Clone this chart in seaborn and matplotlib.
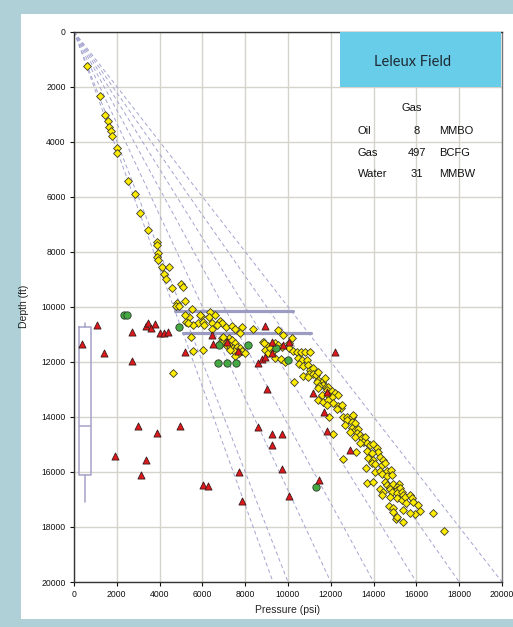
import matplotlib
matplotlib.use("Agg")
import matplotlib.pyplot as plt
import seaborn as sns
import pandas as pd
from matplotlib.patches import Rectangle

# ---------------- data (pressure psi, depth ft) ----------------
gas_points = [
    (620, 1250), (1220, 2340), (1440, 3020), (1580, 3240), (1620, 3460), (1730, 3600),
    (1780, 3790), (2000, 4240), (2020, 4400), (2520, 5440), (2850, 5920), (3080, 6600),
    (3460, 7210), (3870, 7640), (3890, 7760), (3910, 8040), (3870, 8180), (3940, 8300),
    (4100, 8550), (4440, 8550), (4220, 8810), (4290, 9000), (4570, 9310), (5000, 9170),
    (5090, 9290), (5190, 9780), (4830, 9880), (4770, 9970), (4920, 9970), (5500, 10090),
    (5390, 10380), (5940, 10340), (6360, 10180), (6320, 10380), (6590, 10300), (5220, 10540),
    (5810, 10600), (6010, 10540), (6090, 10660), (5580, 10660), (6440, 10600), (6820, 10510),
    (6900, 10600), (6670, 10660), (7100, 10730), (7370, 10690), (7520, 10820), (7840, 10730),
    (8380, 10820), (6440, 10820), (5450, 11110), (5580, 11600), (6040, 11570), (4640, 12400),
    (6900, 11150), (7060, 11180), (7260, 11120), (6820, 11330), (6980, 11270), (7160, 11270),
    (7370, 11210), (7520, 11310), (7100, 11390), (7290, 11430), (7420, 11510), (7600, 11450),
    (7490, 11600), (7760, 11510), (7840, 11600), (7730, 11670), (7520, 11790), (7990, 11670),
    (6950, 11090), (8850, 11270), (9050, 11430), (8930, 11570), (9050, 11690), (5340, 10580),
    (7760, 10960), (7290, 11570), (5190, 10300), (5890, 10300),
    (9550, 10850), (9750, 11030), (10170, 11150), (8880, 11310), (9390, 11330), (9550, 11390),
    (9160, 11510), (9350, 11570), (9710, 11450), (10060, 11310), (10060, 11510), (10220, 11600),
    (10410, 11630), (10590, 11660), (10800, 11660), (11030, 11630), (9390, 11850), (9660, 11900),
    (9860, 12000), (10480, 11870), (10640, 11940), (10870, 11940), (10530, 12090), (10720, 12140),
    (10950, 12120), (11030, 12300), (11180, 12240), (11000, 12440), (11150, 12440), (11310, 12480),
    (10720, 12520), (10950, 12540), (11420, 12360), (11420, 12660), (11580, 12720), (11340, 12740),
    (11730, 12600), (11620, 12840), (11780, 12900), (11460, 12870), (10300, 12730), (11420, 12960),
    (11880, 12930), (11810, 13020), (12040, 13060), (12200, 13120), (12350, 13210), (11580, 13210),
    (11880, 13210), (12040, 13270), (11420, 13390), (11650, 13450), (11880, 13390), (12090, 13490),
    (11810, 13570), (12350, 13610), (12460, 13690), (12280, 13730), (12510, 13570), (11930, 14020),
    (12590, 13990), (12740, 13990), (12980, 13990), (13050, 13930), (12740, 14110), (12980, 14180),
    (13130, 14230), (12660, 14300), (12980, 14420), (13130, 14480), (13290, 14450), (12900, 14540),
    (12120, 14620), (13210, 14600), (13370, 14660), (13130, 14720), (13440, 14780), (13600, 14740),
    (13520, 14900), (13680, 14960), (13830, 15020), (13990, 14990), (13370, 14960), (14150, 15140),
    (14220, 15270), (13680, 15230), (13910, 15300), (13180, 15290), (12560, 15540), (13750, 15510),
    (13990, 15570), (14300, 15470), (14450, 15570), (13910, 15690), (14070, 15710), (14380, 15750),
    (14530, 15690), (13630, 15870), (14070, 15990), (14300, 15960), (14610, 15960), (14800, 15930),
    (14380, 16080), (14640, 16150), (14850, 16110), (13680, 16390), (13990, 16380), (14530, 16360),
    (14640, 16480), (14770, 16540), (14920, 16440), (15200, 16440), (15080, 16550), (14300, 16630),
    (14450, 16740), (14770, 16630), (15080, 16660), (15230, 16600), (14850, 16720), (15080, 16780),
    (15310, 16720), (15390, 16840), (14380, 16840), (14770, 16900), (15080, 16960), (15310, 17020),
    (15470, 16900), (15700, 16840), (15780, 16960), (15510, 17140), (15860, 17080), (14730, 17240),
    (14920, 17320), (15390, 17380), (16090, 17200), (16170, 17420), (15940, 17530), (15700, 17480),
    (15050, 17720), (15390, 17820), (16760, 17480), (17290, 18140), (15080, 17630), (14920, 17450),
]

green_points = [
    (2340, 10310), (2490, 10310), (4910, 10750), (6790, 11390), (8120, 11390),
    (6720, 12050), (7140, 12050), (7560, 12050), (11300, 16560), (9440, 11510), (9990, 11930),
]

red_points = [
    (360, 11360), (1060, 10660), (1400, 11690), (2700, 10920), (2720, 11970), (3350, 10700),
    (3470, 10580), (3600, 10780), (3790, 10630), (4020, 10960), (4220, 10940), (4410, 10930),
    (5190, 11630), (6510, 11360), (6440, 11030), (7140, 11290), (7680, 11610), (8610, 12050),
    (8790, 11900), (8930, 11830), (8930, 10700), (9240, 11270), (9750, 11390), (10060, 11270),
    (9240, 11690), (12200, 11660), (9040, 12990), (11180, 13140), (11810, 13100), (11670, 13830),
    (11810, 14510), (8620, 14360), (9230, 14630), (9700, 14610), (9230, 15010), (9730, 15890),
    (12900, 15190), (11470, 16290), (10060, 16880), (3010, 14330), (4950, 14330), (3870, 14600),
    (1910, 15420), (3370, 15570), (3120, 16120), (7690, 16000), (6010, 16460), (6260, 16520),
    (7830, 17050),
]

gradients = [0.465, 0.5, 0.6, 0.7, 0.8, 0.9, 1.0]          # psi/ft reference lines
bar_depths = [10170, 10970]
bar_start = [4720, 5080]
bar_end = [10250, 11080]
box_stats = {"q1": 10720, "med": 14330, "q3": 16110, "whislo": 10580, "whishi": 17080}
box_position = 515
box_width = 590

ticks = list(range(0, 20001, 2000))
title_text = "Leleux Field"
table_header = "Gas"
table_rows = ["Oil", "Gas", "Water"]
table_values = ["8", "497", "31"]
table_units = ["MMBO", "BCFG", "MMBW"]

# ---------------- styling ----------------
sns.set_theme(style="white")
plt.rcParams["font.family"] = ["Liberation Sans", "DejaVu Sans"]

W, H = 513, 627
fig = plt.figure(figsize=(W / 100, H / 100), dpi=100)
fig.patch.set_facecolor("#aed0d6")
fig.patches.append(Rectangle((21 / W, 1 - 619 / H), 1 - 21 / W, (619 - 14) / H,
                             transform=fig.transFigure, facecolor="white",
                             edgecolor="none", zorder=-10))

ax = fig.add_axes([74 / W, 1 - 582 / H, 428 / W, 550.5 / H])
ax.set_zorder(1)
ax.set_facecolor("white")
ax.set_axisbelow(True)
ax.grid(True, color="#d6d3cb", linewidth=1.0)

# dashed gradient lines
for g in gradients:
    df_line = pd.DataFrame({"p": [0, g * 20000], "d": [0, 20000]})
    sns.lineplot(data=df_line, x="p", y="d", ax=ax, color="#a4a4d0", linewidth=0.7,
                 sort=False, estimator=None, zorder=2)
for line in ax.lines:
    line.set_dashes((4, 3))

# horizontal bars
for d, a, b in zip(bar_depths, bar_start, bar_end):
    df_bar = pd.DataFrame({"p": [a, b], "d": [d, d]})
    sns.lineplot(data=df_bar, x="p", y="d", ax=ax, color="#9c9cc2", linewidth=2.3,
                 sort=False, estimator=None, zorder=3)

# box plot
stats = dict(box_stats)
stats["fliers"] = []
ax.bxp([stats], positions=[box_position], widths=box_width, showcaps=False,
       showfliers=False, manage_ticks=False,
       boxprops=dict(color="#a4a2c8", linewidth=1.1),
       whiskerprops=dict(color="#a4a2c8", linewidth=1.1),
       medianprops=dict(color="#a4a2c8", linewidth=1.1))

gas_df = pd.DataFrame(gas_points, columns=["p", "d"])
green_df = pd.DataFrame(green_points, columns=["p", "d"])
red_df = pd.DataFrame(red_points, columns=["p", "d"])

sns.scatterplot(data=gas_df, x="p", y="d", marker="D", s=16, color="#ffec00",
                edgecolor="#3a3a2a", linewidth=0.6, ax=ax, zorder=4)
sns.scatterplot(data=green_df, x="p", y="d", marker="o", s=28, color="#46a843",
                edgecolor="#2a3a2a", linewidth=0.6, ax=ax, zorder=5)
sns.scatterplot(data=red_df, x="p", y="d", marker="^", s=26, color="#e0181c",
                edgecolor="#3a1a1a", linewidth=0.6, ax=ax, zorder=6)

ax.set_xlim(0, 20000)
ax.set_ylim(20000, 0)
ax.set_xticks(ticks)
ax.set_yticks(ticks)
ax.set_xticklabels([str(t) for t in ticks])
ax.set_yticklabels([str(t) for t in ticks])
ax.tick_params(axis="both", labelsize=6.2, length=3, width=0.8, pad=3,
               bottom=True, left=True, colors="#111111")
for name, sp in ax.spines.items():
    sp.set_visible(True)
    sp.set_linewidth(1.0)
    sp.set_color("#333333")
ax.spines["right"].set_color("#777777")

ax.set_xlabel("Pressure (psi)", fontsize=7.5, color="#222222")
ax.set_ylabel("Depth (ft)", fontsize=7.5, color="#222222")
ax.xaxis.set_label_coords(0.5, -0.042)
ax.yaxis.set_label_coords(-0.105, 0.5)

# title box and table
ax.add_patch(Rectangle((12430, 0), 19950 - 12430, 2000, facecolor="#68cde9",
                       edgecolor="none", zorder=7))
ax.text(15810, 1100, title_text, fontsize=10.5, family=["Lato", "DejaVu Sans"],
        color="#1e2a33", ha="center", va="center", zorder=8)
ax.text(15780, 2790, table_header, fontsize=8, ha="center", va="center", color="#111111", zorder=8)
row_depths = [3600, 4400, 5180]
for yd, r, v, u in zip(row_depths, table_rows, table_values, table_units):
    ax.text(13260, yd, r, fontsize=8, ha="left", va="center", color="#111111", zorder=8)
    ax.text(16010, yd, v, fontsize=8, ha="center", va="center", color="#111111", zorder=8)
    ax.text(17060, yd, u, fontsize=8, ha="left", va="center", color="#111111", zorder=8)

fig.savefig("out.png", dpi=100, facecolor=fig.get_facecolor())
